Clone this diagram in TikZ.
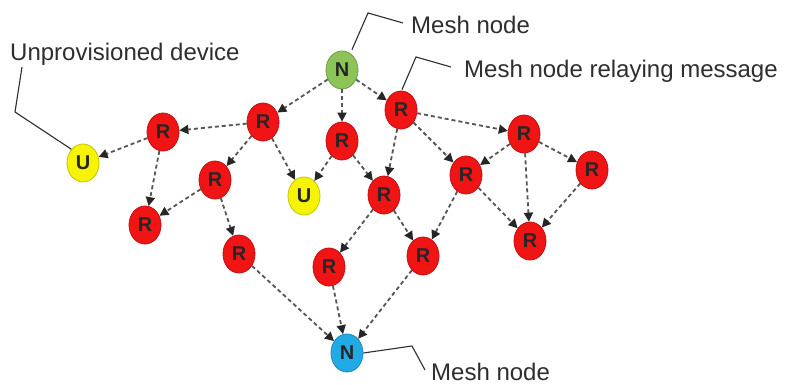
\documentclass[tikz,border=0pt]{standalone}
\usepackage{fontspec}
\setmainfont{Liberation Sans}
\usetikzlibrary{shapes.geometric,arrows.meta}

\definecolor{relayred}{HTML}{F01414}
\definecolor{meshgreen}{HTML}{8CC45A}
\definecolor{newyellow}{HTML}{F6F400}
\definecolor{meshblue}{HTML}{22AAE6}
\definecolor{labelgray}{HTML}{2E2E2E}
\definecolor{linkgray}{HTML}{555555}

\begin{document}
\begin{tikzpicture}[x=1pt,y=-1pt,
  mesh/.style={ellipse,draw=#1!80!black,fill=#1,line width=0.8pt,
    minimum width=32pt,minimum height=38pt,inner sep=0pt,
    font=\bfseries\fontsize{20}{20}\selectfont,text=black!85},
  relay/.style={mesh=relayred},
  link/.style={draw=linkgray,line width=1.8pt,dash pattern=on 4pt off 3pt,
    -{Triangle[length=9pt,width=9pt,color=black!85]}},
  callout/.style={draw=labelgray,line width=1.1pt},
  caption/.style={anchor=base west,inner sep=0pt,text=labelgray,
    font=\fontsize{24}{24}\selectfont}
]
\useasboundingbox (0,0) rectangle (785,385);
\fill[white] (0,0) rectangle (785,385);

% nodes
\node[mesh=meshgreen] (ntop) at (342,70) {N};
\node[relay] (r1)  at (263,122) {R};
\node[relay] (r2)  at (163,132) {R};
\node[mesh=newyellow] (u1) at (83,163) {U};
\node[relay] (r3)  at (342,141) {R};
\node[relay] (r4)  at (401,110) {R};
\node[relay] (r5)  at (215,180) {R};
\node[mesh=newyellow] (u2) at (304,196) {U};
\node[relay] (r6)  at (384,195) {R};
\node[relay] (r7)  at (466,175) {R};
\node[relay] (r8)  at (524,134) {R};
\node[relay] (r9)  at (592,170) {R};
\node[relay] (r10) at (145,225) {R};
\node[relay] (r11) at (239,254) {R};
\node[relay] (r12) at (329,267) {R};
\node[relay] (r13) at (423,256) {R};
\node[relay] (r14) at (530,241) {R};
\node[mesh=meshblue] (nbot) at (347,353) {N};

% message flooding links
\foreach \a/\b in {ntop/r1, ntop/r3, ntop/r4,
                   r1/r2, r2/u1, r2/r10, r1/r5, r1/u2,
                   r3/u2, r3/r6, r4/r6, r4/r7, r4/r8,
                   r8/r7, r8/r9, r5/r10, r5/r11,
                   r6/r12, r6/r13, r7/r13, r7/r14, r8/r14, r9/r14,
                   r11/nbot, r12/nbot, r13/nbot}
  \draw[link] (\a) -- (\b);

% captions
\node[caption] (capTop) at (411,34) {Mesh node};
\node[caption] (capRelay) at (464,78) {Mesh node relaying message};
\node[caption] (capU) at (10,61) {Unprovisioned device};
\node[caption] (capBot) at (431,380) {Mesh node};

% callout bends
\coordinate (kTop) at (368,13);
\coordinate (eTop) at (403,23);
\coordinate (kRelay) at (416,57);
\coordinate (eRelay) at (451,67);
\coordinate (sU) at (22,67);
\coordinate (kU) at (15,112);
\coordinate (kBot) at (412,346);
\coordinate (eBot) at (425,370);

\draw[callout] (ntop.north) ++(10,-1) coordinate (sTop) -- (kTop) -- (eTop);
\draw[callout] (r4.north) ++(1,-1) coordinate (sRelay) -- (kRelay) -- (eRelay);
\draw[callout] (sU) -- (kU) -- (u1.north west);
\draw[callout] (nbot.east) -- (kBot) -- (eBot);
\end{tikzpicture}
\end{document}
